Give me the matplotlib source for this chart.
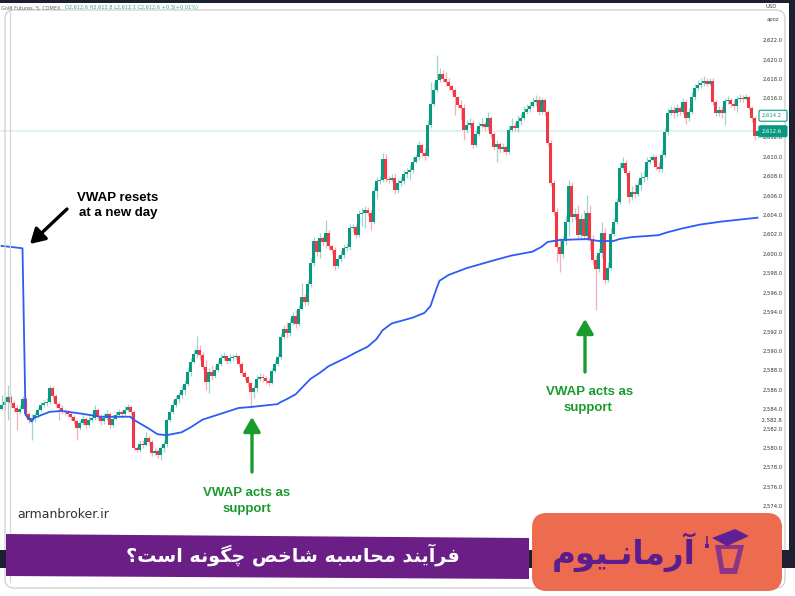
import matplotlib
matplotlib.use("Agg")
import matplotlib.pyplot as plt
from matplotlib.patches import FancyBboxPatch, Polygon, Rectangle, FancyArrowPatch
from matplotlib.transforms import IdentityTransform
import numpy as np

# ---------------- data ----------------
first_open = 2584.0
closes = [
    2584.4, 2584.7, 2585.2, 2584.6, 2584.1, 2583.7, 2584.0, 2585.0, 2583.5, 2582.9,
    2583.1, 2583.4, 2583.9, 2584.4, 2584.6, 2584.7, 2586.2, 2585.3, 2584.5, 2584.1,
    2583.8, 2583.7, 2583.5, 2583.2, 2582.8, 2582.0, 2582.6, 2583.0, 2582.3, 2582.9,
    2583.1, 2583.9, 2583.3, 2582.8, 2583.1, 2583.5, 2582.3, 2583.0, 2583.4, 2583.7,
    2583.5, 2583.9, 2584.2, 2583.7, 2580.0, 2579.8, 2580.4, 2580.3, 2581.0, 2580.6,
    2579.5, 2579.7, 2579.3, 2580.0, 2580.4, 2582.9, 2583.7, 2584.4, 2585.0, 2585.4,
    2586.0, 2586.6, 2587.8, 2588.8, 2589.7, 2590.1, 2589.6, 2588.3, 2586.8, 2587.8,
    2587.4, 2588.0, 2588.6, 2589.3, 2589.5, 2588.9, 2589.3, 2589.4, 2589.5, 2588.6,
    2587.7, 2587.3, 2586.7, 2585.7, 2586.2, 2587.1, 2587.3, 2587.2, 2586.9, 2586.7,
    2587.9, 2588.6, 2589.4, 2591.4, 2592.2, 2591.8, 2592.9, 2593.6, 2592.8, 2594.3,
    2595.5, 2595.0, 2596.9, 2599.0, 2601.3, 2600.2, 2601.6, 2601.2, 2602.1, 2600.8,
    2600.4, 2598.7, 2599.4, 2599.9, 2600.6, 2600.7, 2602.6, 2602.7, 2601.9, 2604.1,
    2604.2, 2604.5, 2604.2, 2603.3, 2606.5, 2607.5, 2607.6, 2609.7, 2607.7, 2607.6,
    2607.8, 2606.6, 2607.3, 2607.5, 2608.2, 2608.4, 2608.6, 2609.4, 2609.9, 2611.2,
    2610.4, 2610.1, 2613.2, 2615.4, 2616.9, 2617.9, 2618.5, 2618.0, 2617.7, 2617.3,
    2616.9, 2616.1, 2615.3, 2615.0, 2612.7, 2613.2, 2613.5, 2611.2, 2612.3, 2613.1,
    2613.3, 2613.0, 2614.0, 2612.3, 2611.0, 2611.3, 2610.8, 2611.0, 2610.5, 2612.7,
    2613.1, 2612.9, 2613.7, 2614.0, 2614.6, 2614.9, 2615.2, 2615.6, 2615.8, 2614.6,
    2615.8, 2614.6, 2611.4, 2607.3, 2604.3, 2600.7, 2600.0, 2601.3, 2603.3, 2607.0,
    2603.8, 2604.1, 2601.9, 2603.6, 2601.8, 2604.2, 2601.4, 2599.3, 2598.4, 2600.1,
    2602.1, 2597.3, 2598.5, 2602.0, 2603.3, 2605.3, 2608.8, 2609.3, 2608.3, 2605.8,
    2606.3, 2606.1, 2607.1, 2607.8, 2607.9, 2609.4, 2609.6, 2609.9, 2608.9, 2608.7,
    2610.2, 2612.5, 2614.5, 2614.8, 2614.5, 2615.0, 2614.6, 2615.6, 2614.0, 2614.6,
    2616.1, 2617.1, 2617.4, 2617.6, 2617.8, 2617.5, 2617.8, 2615.6, 2614.5, 2614.8,
    2614.5, 2615.7, 2615.8, 2615.4, 2615.2, 2615.9, 2616.0, 2615.9, 2616.1, 2615.0,
    2614.0, 2612.1, 2612.6]
highs = [
    2585.4, 2585.3, 2586.5, 2585.4, 2584.9, 2584.4, 2584.4, 2585.3, 2585.2, 2583.7,
    2583.5, 2583.7, 2584.2, 2584.7, 2584.9, 2585.1, 2586.5, 2586.4, 2585.5, 2584.7,
    2584.4, 2584.0, 2583.9, 2583.7, 2583.4, 2582.9, 2582.9, 2583.4, 2583.2, 2583.3,
    2583.6, 2584.4, 2584.1, 2583.5, 2583.6, 2583.9, 2583.7, 2583.4, 2583.8, 2584.0,
    2583.9, 2584.3, 2584.5, 2584.4, 2583.9, 2580.2, 2580.8, 2580.8, 2581.6, 2581.2,
    2580.8, 2580.0, 2579.9, 2580.3, 2580.8, 2583.1, 2584.1, 2584.9, 2585.4, 2585.7,
    2586.5, 2587.0, 2588.2, 2589.3, 2590.1, 2591.5, 2590.6, 2589.9, 2589.0, 2588.2,
    2588.5, 2588.4, 2589.0, 2589.7, 2589.9, 2589.6, 2589.7, 2589.7, 2589.8, 2589.6,
    2588.8, 2587.9, 2587.4, 2586.8, 2586.5, 2587.5, 2587.7, 2587.6, 2587.4, 2587.2,
    2588.2, 2589.0, 2589.8, 2591.8, 2592.6, 2593.0, 2593.4, 2594.0, 2594.2, 2594.7,
    2597.0, 2595.8, 2597.3, 2599.5, 2601.7, 2601.4, 2602.1, 2601.8, 2603.5, 2602.4,
    2601.0, 2600.7, 2599.9, 2600.4, 2601.0, 2601.1, 2603.1, 2603.1, 2603.1, 2604.5,
    2604.7, 2604.9, 2604.8, 2604.5, 2606.9, 2607.9, 2608.0, 2610.4, 2610.3, 2608.0,
    2608.2, 2608.3, 2607.7, 2607.9, 2608.6, 2608.8, 2609.1, 2609.9, 2610.3, 2611.6,
    2611.4, 2610.9, 2613.8, 2617.7, 2617.7, 2620.5, 2619.1, 2618.9, 2618.7, 2618.1,
    2617.5, 2617.1, 2616.2, 2615.8, 2615.4, 2613.8, 2614.0, 2613.8, 2612.7, 2613.6,
    2614.0, 2613.7, 2614.6, 2614.2, 2612.5, 2611.7, 2611.5, 2611.4, 2611.2, 2613.1,
    2614.0, 2613.6, 2614.3, 2614.5, 2615.2, 2615.4, 2615.6, 2616.1, 2616.3, 2616.2,
    2616.1, 2616.0, 2614.8, 2611.7, 2607.6, 2604.7, 2601.6, 2601.8, 2604.0, 2607.6,
    2607.4, 2604.7, 2605.0, 2604.1, 2604.5, 2606.0, 2605.0, 2601.9, 2599.9, 2600.6,
    2603.3, 2602.6, 2599.1, 2602.6, 2603.7, 2605.7, 2609.4, 2609.9, 2609.6, 2608.6,
    2607.0, 2607.2, 2607.6, 2608.4, 2608.6, 2609.9, 2610.1, 2610.3, 2610.2, 2609.4,
    2610.7, 2612.9, 2615.0, 2615.2, 2615.2, 2615.4, 2615.2, 2616.0, 2615.8, 2615.0,
    2616.6, 2617.5, 2617.9, 2618.1, 2618.3, 2618.1, 2618.1, 2618.1, 2615.8, 2615.2,
    2615.2, 2616.0, 2616.2, 2616.0, 2615.8, 2616.2, 2616.4, 2616.3, 2616.4, 2616.2,
    2615.2, 2614.2, 2613.1]
lows = [
    2583.9, 2583.9, 2582.9, 2584.2, 2583.7, 2581.8, 2583.5, 2584.4, 2583.1, 2582.6,
    2580.8, 2582.7, 2583.1, 2583.7, 2584.2, 2584.3, 2584.5, 2584.9, 2584.2, 2582.9,
    2583.5, 2583.4, 2583.2, 2582.9, 2582.5, 2580.8, 2581.8, 2582.3, 2582.0, 2582.1,
    2582.7, 2582.9, 2582.9, 2582.3, 2582.5, 2582.9, 2582.0, 2582.1, 2582.9, 2583.2,
    2583.1, 2583.3, 2583.7, 2583.4, 2579.8, 2579.6, 2579.6, 2580.0, 2580.2, 2580.3,
    2579.2, 2579.3, 2579.0, 2578.7, 2579.6, 2580.1, 2582.7, 2583.5, 2584.2, 2584.6,
    2585.1, 2585.4, 2586.4, 2587.4, 2588.7, 2589.3, 2589.0, 2588.0, 2586.0, 2585.6,
    2587.0, 2587.2, 2587.8, 2588.4, 2589.0, 2588.6, 2588.7, 2588.9, 2589.0, 2588.3,
    2587.4, 2587.0, 2586.3, 2584.1, 2585.1, 2585.7, 2586.9, 2586.8, 2586.6, 2586.4,
    2586.6, 2587.8, 2588.4, 2589.1, 2591.2, 2591.3, 2591.5, 2592.6, 2592.3, 2592.5,
    2594.2, 2594.6, 2594.7, 2596.6, 2598.7, 2599.8, 2599.6, 2600.8, 2600.6, 2600.4,
    2600.0, 2598.3, 2598.5, 2599.1, 2599.5, 2600.3, 2600.4, 2602.2, 2601.6, 2601.7,
    2602.8, 2602.6, 2603.9, 2602.4, 2603.1, 2605.6, 2607.2, 2607.4, 2607.4, 2607.3,
    2607.4, 2606.1, 2606.2, 2607.0, 2607.2, 2607.8, 2607.6, 2608.3, 2609.3, 2609.6,
    2609.9, 2609.6, 2609.9, 2612.9, 2615.2, 2616.6, 2617.7, 2617.7, 2617.3, 2616.9,
    2616.4, 2614.3, 2615.0, 2613.8, 2611.7, 2612.4, 2612.9, 2610.9, 2611.0, 2612.1,
    2612.9, 2612.7, 2612.7, 2611.9, 2610.7, 2609.4, 2610.4, 2610.5, 2610.2, 2610.3,
    2612.5, 2612.6, 2612.5, 2613.2, 2613.8, 2614.4, 2614.6, 2615.0, 2615.2, 2614.3,
    2614.4, 2614.2, 2611.1, 2607.0, 2603.9, 2599.1, 2598.1, 2599.5, 2600.9, 2601.8,
    2603.3, 2603.5, 2601.4, 2601.4, 2601.4, 2601.4, 2600.4, 2598.8, 2594.2, 2598.1,
    2599.5, 2596.9, 2597.1, 2598.3, 2601.8, 2603.1, 2605.1, 2608.6, 2608.0, 2605.2,
    2605.5, 2605.7, 2605.9, 2606.6, 2607.4, 2607.6, 2609.2, 2609.4, 2608.6, 2608.4,
    2608.4, 2610.0, 2612.2, 2614.3, 2614.0, 2614.2, 2614.3, 2614.4, 2613.3, 2613.7,
    2614.4, 2615.8, 2616.9, 2617.1, 2617.3, 2617.3, 2617.3, 2615.3, 2614.2, 2614.2,
    2614.0, 2613.2, 2615.4, 2615.1, 2614.8, 2614.6, 2615.6, 2615.6, 2615.8, 2614.8,
    2613.6, 2611.7, 2611.9]

vwap_idx = [0, 7, 8, 10, 11, 16, 20, 27, 33, 43,
            44, 49, 52, 55, 60, 63, 67, 70, 75, 79,
            83, 86, 92, 93, 95, 98, 103, 106, 109, 115,
            118, 122, 125, 127, 130, 137, 141, 143, 145, 146,
            149, 155, 164, 170, 177, 180, 182, 186, 195, 199,
            204, 206, 210, 219, 222, 227, 233, 240, 252]
vwap_val = [2600.8, 2600.55, 2583.4, 2582.7, 2583.1, 2583.7, 2583.8, 2583.5, 2583.2, 2583.2,
            2582.9, 2582.0, 2581.4, 2581.3, 2581.6, 2582.1, 2582.9, 2583.2, 2583.7, 2584.1,
            2584.2, 2584.3, 2584.5, 2584.7, 2585.0, 2585.5, 2587.1, 2587.7, 2588.4, 2589.3,
            2589.8, 2590.4, 2591.2, 2592.1, 2592.8, 2593.4, 2593.9, 2594.6, 2596.4, 2597.2,
            2597.8, 2598.5, 2599.3, 2599.8, 2600.2, 2600.7, 2601.2, 2601.4, 2601.5, 2601.3,
            2601.3, 2601.5, 2601.7, 2601.9, 2602.2, 2602.6, 2603.0, 2603.3, 2603.7]

# 2,614.0 is hidden behind the price marker in the reference
price_ticks = [2572.0 + 2 * i for i in range(26) if 2572.0 + 2 * i != 2614.0]
extra_tick = 2582.8
last_price = 2612.6
marker_price = 2614.2

header_left = "Gold Futures, 5, COMEX"
header_right = "O2,612.6 H2,612.8 L2,612.1 C2,612.6 +0.3(+0.01%)"
banner_text = "فرآیند محاسبه شاخص چگونه است؟"
logo_text = "آرمانـیوم"
site_text = "armanbroker.ir"

# ------------- simple Persian shaping (presentation forms + RTL) -------------
AR_FORMS = {
    '\u0622': ('\uFE81', '\uFE82', None, None),
    '\u0627': ('\uFE8D', '\uFE8E', None, None),
    '\u0628': ('\uFE8F', '\uFE90', '\uFE91', '\uFE92'),
    '\u062A': ('\uFE95', '\uFE96', '\uFE97', '\uFE98'),
    '\u062D': ('\uFEA1', '\uFEA2', '\uFEA3', '\uFEA4'),
    '\u062E': ('\uFEA5', '\uFEA6', '\uFEA7', '\uFEA8'),
    '\u062F': ('\uFEA9', '\uFEAA', None, None),
    '\u0631': ('\uFEAD', '\uFEAE', None, None),
    '\u0633': ('\uFEB1', '\uFEB2', '\uFEB3', '\uFEB4'),
    '\u0634': ('\uFEB5', '\uFEB6', '\uFEB7', '\uFEB8'),
    '\u0635': ('\uFEB9', '\uFEBA', '\uFEBB', '\uFEBC'),
    '\u0641': ('\uFED1', '\uFED2', '\uFED3', '\uFED4'),
    '\u0645': ('\uFEE1', '\uFEE2', '\uFEE3', '\uFEE4'),
    '\u0646': ('\uFEE5', '\uFEE6', '\uFEE7', '\uFEE8'),
    '\u0647': ('\uFEE9', '\uFEEA', '\uFEEB', '\uFEEC'),
    '\u0648': ('\uFEED', '\uFEEE', None, None),
    '\u06CC': ('\uFEEF', '\uFEF0', '\uFEF3', '\uFEF4'),
    '\u0686': ('\uFB7A', '\uFB7B', '\uFB7C', '\uFB7D'),
    '\u06AF': ('\uFB92', '\uFB93', '\uFB94', '\uFB95'),
}
TATWEEL = '\u0640'


def _joins_next(c):
    if c == TATWEEL:
        return True
    f = AR_FORMS.get(c)
    return f is not None and f[2] is not None


def _joinable(c):
    return c == TATWEEL or c in AR_FORMS


def shape_rtl(text):
    out = []
    n = len(text)
    for i, c in enumerate(text):
        if c not in AR_FORMS:
            out.append(c)
            continue
        prev = text[i - 1] if i > 0 else ''
        nxt = text[i + 1] if i + 1 < n else ''
        iso, fin, ini, med = AR_FORMS[c]
        jp = bool(prev) and _joins_next(prev)
        jn = bool(nxt) and _joinable(nxt) and ini is not None
        if jp and jn:
            out.append(med)
        elif jp:
            out.append(fin)
        elif jn:
            out.append(ini)
        else:
            out.append(iso)
    return ''.join(reversed(out))


# ---------------- figure ----------------
W, H = 795, 596
fig = plt.figure(figsize=(W / 100, H / 100), dpi=100)
fig.patch.set_facecolor("white")
ID = IdentityTransform()


def fy(y):
    return H - y


ax = fig.add_axes([0, 0, 760 / W, 593 / H])
ax.set_facecolor("none")
n = len(closes)
idx = np.arange(n)
opens = np.array([first_open] + closes[:-1])
cl = np.array(closes)
hi = np.maximum(np.array(highs), np.maximum(opens, cl))
lo = np.minimum(np.array(lows), np.minimum(opens, cl))
up = cl >= opens
GREEN, RED = "#089981", "#f23645"
GREEN_W, RED_W = "#9ed6cb", "#f6b1b7"

ax.axhline(last_price, color="#dcefea", lw=1.2, zorder=0)
ax.vlines(idx, lo, hi, colors=[GREEN_W if u else RED_W for u in up], lw=0.9, zorder=1)
body_h = np.where(np.abs(cl - opens) < 0.08, 0.08, np.abs(cl - opens))
ax.bar(idx, body_h, bottom=np.minimum(opens, cl), width=0.72,
       color=[GREEN if u else RED for u in up], linewidth=0, zorder=2)
ax.plot(vwap_idx, vwap_val, color="#2b5cf6", lw=1.3, zorder=4, solid_joinstyle="round")

ax.set_xlim(-0.5, 252.83)
ax.set_ylim(2564.74, 2625.81)
for s in ax.spines.values():
    s.set_visible(False)
ax.set_xticks([])
ax.yaxis.tick_right()
ax.set_yticks(price_ticks)
ax.set_yticklabels([f"{v:,.1f}" for v in price_ticks])
ax.tick_params(axis="y", length=0, pad=2, labelsize=3.8, labelcolor="#333333")

# extra gray axis label
ax.text(1.0, extra_tick, f" {extra_tick:,.1f}", transform=ax.get_yaxis_transform(),
        fontsize=3.8, color="#333333", va="center", ha="left")

# price labels on axis
def price_box(price, filled):
    y = ax.transData.transform((0, price))[1]
    fc = GREEN if filled else "white"
    box = FancyBboxPatch((759, y - 5.5), 28, 11, boxstyle="round,pad=0,rounding_size=1.5",
                         transform=ID, fc=fc, ec=GREEN, lw=0.8, zorder=6)
    fig.patches.append(box)
    fig.text(762, y, f"{price:,.1f}", transform=ID, fontsize=3.8,
             color="white" if filled else GREEN, va="center", ha="left", zorder=7)

price_box(marker_price, False)
price_box(last_price, True)

# header
fig.text(1, fy(8), header_left, transform=ID, fontsize=3.6, color="#666666", va="center")
fig.text(65, fy(8), header_right, transform=ID, fontsize=3.6, color="#2aa58f", va="center")
fig.text(766, fy(7), "USD", transform=ID, fontsize=3.8, color="#444444", va="center")
fig.text(767, fy(19), "apoz", transform=ID, fontsize=3.8, color="#444444", va="center")

# frame lines
fig.patches.append(FancyBboxPatch((5, fy(588)), 780, 578,
                                  boxstyle="round,pad=0,rounding_size=9", transform=ID,
                                  fc="none", ec="#cfcfcf", lw=0.9, zorder=3))
fig.lines.append(plt.Line2D([10, 10], [fy(6), fy(582)], transform=ID, color="#d6d6d6", lw=0.9))

# dark borders
fig.patches.append(Rectangle((0, fy(2.5)), W, 2.5, transform=ID, fc="#1d2030", ec="none", zorder=8))
fig.patches.append(Rectangle((789, fy(568)), 6, 568, transform=ID, fc="#1d2030", ec="none", zorder=8))
fig.patches.append(Rectangle((0, fy(568)), W, 18, transform=ID, fc="#1d2030", ec="none", zorder=8))

# annotations
BOLD = dict(family="Liberation Sans", fontweight="bold", fontsize=9.5, ha="center", va="center")
fig.text(118, fy(198), "VWAP resets", transform=ID, color="black", **BOLD)
fig.text(118, fy(213), "at a new day", transform=ID, color="black", **BOLD)
DG = "#1a9b2e"
fig.text(247, fy(493), "VWAP acts as", transform=ID, color=DG, **BOLD)
fig.text(247, fy(509), "support", transform=ID, color=DG, **BOLD)
fig.text(590, fy(392), "VWAP acts as", transform=ID, color=DG, **BOLD)
fig.text(588, fy(408), "support", transform=ID, color=DG, **BOLD)

def arrow(x0, y0, x1, y1, color):
    a = FancyArrowPatch((x0, fy(y0)), (x1, fy(y1)), transform=ID,
                        arrowstyle="-|>,head_length=0.55,head_width=0.32",
                        mutation_scale=16, lw=2.4, color=color, shrinkA=0, shrinkB=0, zorder=6)
    fig.patches.append(a)

arrow(67, 209, 30, 244, "black")
arrow(252, 472, 252, 417, DG)
arrow(585, 372, 585, 319, DG)

fig.text(17, fy(514), site_text, transform=ID, fontsize=9, color="#333333",
         va="center", ha="left", family="DejaVu Sans")

# purple banner
fig.patches.append(Polygon([(6, fy(534)), (529, fy(538)), (529, fy(579)), (6, fy(576))],
                           closed=True, transform=ID, fc="#6a1e86", ec="none", zorder=9))
fig.text(293, fy(555), shape_rtl(banner_text), transform=ID, fontsize=13.8, color="white",
         fontweight="bold", family="DejaVu Sans", ha="center", va="center", zorder=10)

# logo box
fig.patches.append(FancyBboxPatch((532, fy(591)), 250, 78,
                                  boxstyle="round,pad=0,rounding_size=15", transform=ID,
                                  fc="#ed6b4e", ec="none", zorder=9))
fig.text(624, fy(552), shape_rtl(logo_text), transform=ID, fontsize=23.5, color="#5a1d90",
         fontweight="bold", family="DejaVu Sans", ha="center", va="center", zorder=10)
# graduation cap icon
fig.patches.append(Polygon([(715, fy(545)), (744, fy(545)), (737, fy(574)), (720, fy(574))],
                           closed=True, transform=ID, fc="#8a3586", ec="none", zorder=10))
fig.patches.append(Polygon([(721, fy(549)), (738, fy(549)), (733, fy(568)), (724, fy(568))],
                           closed=True, transform=ID, fc="#ed6b4e", ec="none", zorder=11))
fig.patches.append(Polygon([(712, fy(538)), (735, fy(529)), (749, fy(536)), (727, fy(546))],
                           closed=True, transform=ID, fc="#5f1f95", ec="none", zorder=12))
fig.lines.append(plt.Line2D([707, 707], [fy(537), fy(545)], transform=ID, color="#5f1f95", lw=1.2, zorder=12))
fig.patches.append(Rectangle((705, fy(548)), 4, 4, transform=ID, fc="#5f1f95", ec="none", zorder=12))

fig.savefig("out.png", dpi=100)
